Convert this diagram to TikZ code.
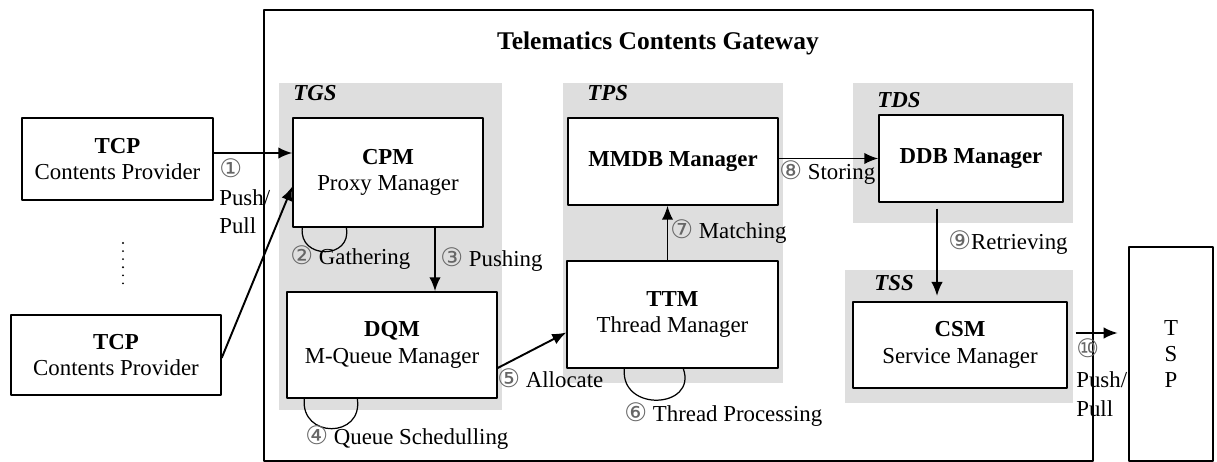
\documentclass[tikz,border=0pt]{standalone}
\usepackage{fontspec}
\setmainfont{Liberation Serif}
\newfontfamily\circfont{DejaVu Sans}
\usetikzlibrary{arrows.meta}
\newcommand{\cnum}[1]{{\circfont\fontsize{14.5}{15}\selectfont\color{black!60}#1}}

\begin{document}
\begin{tikzpicture}[x=0.02cm, y=-0.02cm, line join=round,
    arr/.style={line width=1.1pt, -{Latex[length=8pt,width=6.5pt]}},
    loopline/.style={line width=.7pt},
    lbl/.style={anchor=west, inner sep=0pt, font=\fontsize{13}{15}\selectfont},
    area/.style={fill=black!13},
    areaname/.style={anchor=west, inner sep=0pt, font=\fontsize{13}{15}\selectfont\bfseries\itshape}]
  \useasboundingbox (0,0) rectangle (1217,462);

  % gateway frame and subsystem areas
  \draw[line width=.6pt] (264,10) rectangle (1093,461);
  \node[font=\fontsize{14.5}{17}\selectfont\bfseries] (title) at (658,43) {Telematics Contents Gateway};
  \fill[area] (279,83) rectangle (502,410);
  \fill[area] (563,83) rectangle (783,383);
  \fill[area] (853,83) rectangle (1073,223);
  \fill[area] (845,270) rectangle (1073,403);
  \node[areaname] (tgs) at (293,93) {TGS};
  \node[areaname] (tps) at (587,93) {TPS};
  \node[areaname] (tds) at (877,100) {TDS};
  \node[areaname] (tss) at (874,283) {TSS};

  \begin{scope}[every node/.style={draw, line width=.8pt, fill=white, align=center, font=\fontsize{13}{15}\selectfont}]
  \node[minimum width=3.82cm, minimum height=1.64cm] (tcp1) at (117.5,159) {\textbf{TCP}\\Contents Provider};
  \node[minimum width=4.2cm, minimum height=1.6cm] (tcp2) at (116,355) {\textbf{TCP}\\Contents Provider};
  \node[minimum width=3.8cm, minimum height=2.18cm] (cpm) at (388,172.5) {\textbf{CPM}\\Proxy Manager};
  \node[minimum width=4.2cm, minimum height=2.12cm] (dqm) at (392,345) {\textbf{DQM}\\M-Queue Manager};
  \node[minimum width=4.2cm, minimum height=1.74cm] (mmdb) at (673,161.5) {\textbf{MMDB Manager}};
  \node[minimum width=4.22cm, minimum height=2.14cm] (ttm) at (672.5,314.5) {\textbf{TTM}\\Thread Manager};
  \node[minimum width=3.68cm, minimum height=1.74cm] (ddb) at (971,158.5) {\textbf{DDB Manager}};
  \node[minimum width=4.28cm, minimum height=1.72cm] (csm) at (960,345) {\textbf{CSM}\\Service Manager};
  \node[minimum width=1.68cm, minimum height=4.28cm] (tsp) at (1171,354) {T\\S\\P};
  \end{scope}

  % more providers
  \draw[line width=1.2pt, line cap=round, dash pattern=on 0pt off 4.6pt] (123,243) -- (123,285);

  % flows
  \draw[arr] ([shift={(0,-6)}]tcp1.east) -- ([shift={(0,-6)}]tcp1.east -| cpm.west);
  \draw[arr] ([shift={(0,3)}]tcp2.east) -- ([shift={(0,14)}]cpm.west);
  \draw[arr] ([shift={(47,0)}]cpm.south) -- ([shift={(47,0)}]cpm.south |- dqm.north);
  \draw[arr] ([shift={(0,23)}]dqm.east) -- ([shift={(0,18)}]ttm.west);
  \draw[arr] ([shift={(-5,0)}]ttm.north) -- ([shift={(-5,0)}]ttm.north |- mmdb.south);
  \draw[arr] ([shift={(0,-3)}]mmdb.east) -- ([shift={(0,-3)}]mmdb.east -| ddb.west);
  \draw[arr, shorten <=3.4pt, shorten >=3pt] ([shift={(-34,0)}]ddb.south) -- ([shift={(-34,0)}]ddb.south |- csm.north);
  \draw[arr, shorten <=4.5pt, shorten >=6pt] ([shift={(0,-12)}]csm.east) -- ([shift={(0,-12)}]csm.east -| tsp.west);

  % self loops
  \draw[loopline] ([shift={(10,0)}]cpm.south west) .. controls +(-4,32) and +(6,32) .. ([shift={(54,0)}]cpm.south west);
  \draw[loopline] ([shift={(18,0)}]dqm.south west) .. controls +(-4,40) and +(6,40) .. ([shift={(71,0)}]dqm.south west);
  \draw[loopline] ([shift={(58,0)}]ttm.south west) .. controls +(-4,44) and +(14,40) .. ([shift={(117,0)}]ttm.south west);

  % step labels
  \node[lbl, anchor=north west, align=left, font=\fontsize{13}{16}\selectfont] (l1) at (219,158) {\cnum{①}\\Push/\\Pull};
  \node[lbl] (l2) at (290,258) {\cnum{②} Gathering};
  \node[lbl] (l3) at (440,260) {\cnum{③} Pushing};
  \node[lbl] (l4) at (305,438) {\cnum{④} Queue Schedulling};
  \node[lbl] (l5) at (497,378) {\cnum{⑤} Allocate};
  \node[lbl] (l6) at (624,415) {\cnum{⑥} Thread Processing};
  \node[lbl] (l7) at (670,232) {\cnum{⑦} Matching};
  \node[lbl] (l8) at (779,173) {\cnum{⑧} Storing};
  \node[lbl] (l9) at (948,243) {\cnum{⑨}Retrieving};
  \node[lbl, anchor=north west, align=left, font=\fontsize{13}{17}\selectfont] (l10) at (1076,338) {\cnum{⑩}\\Push/\\Pull};
\end{tikzpicture}
\end{document}
